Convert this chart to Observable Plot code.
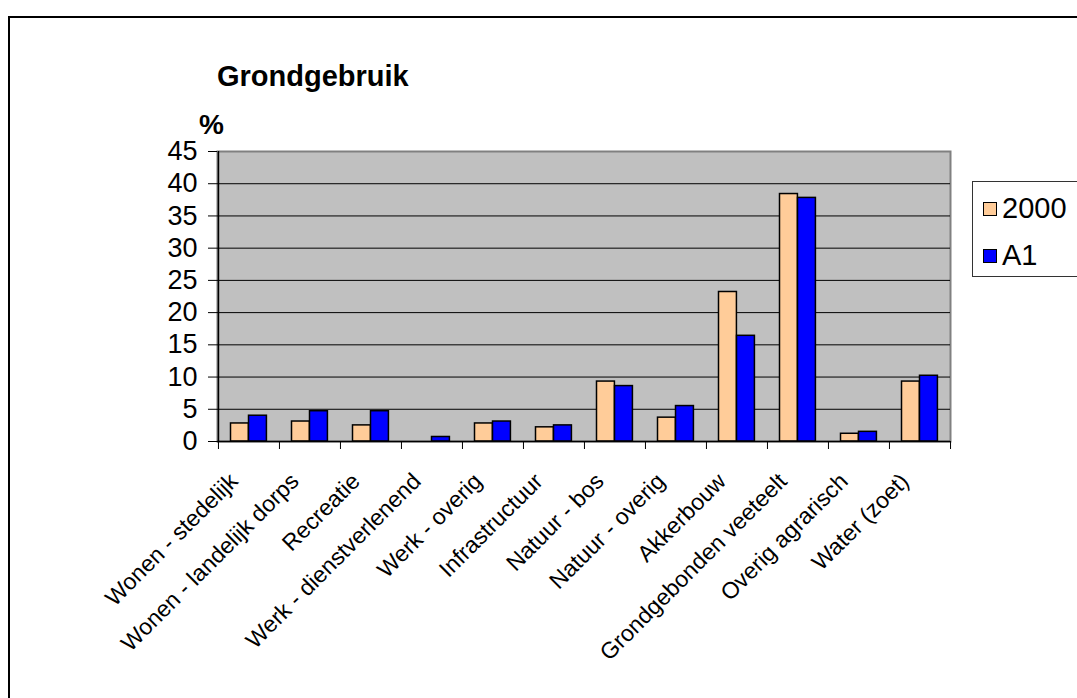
<!DOCTYPE html>
<html>
<head>
<meta charset="utf-8">
<script src="https://cdn.jsdelivr.net/npm/d3@7"></script>
<script src="https://cdn.jsdelivr.net/npm/@observablehq/plot@0.6"></script>
<style>
  html, body { margin: 0; padding: 0; background: #fff; }
  body { width: 1077px; height: 698px; overflow: hidden; position: relative; font-family: "Liberation Sans", Arial, sans-serif; color: #000; }
  #frame { position: absolute; left: 8px; top: 16px; width: 1100px; height: 720px; border: 2px solid #000; box-sizing: border-box; }
  #title { position: absolute; left: 217px; top: 60px; font-size: 29px; font-weight: bold; white-space: nowrap; }
  #unit { position: absolute; left: 199px; top: 109px; font-size: 28px; font-weight: bold; }
  #chart { position: absolute; left: 0; top: 0; }
  #legend { position: absolute; left: 972px; top: 181px; width: 120px; height: 96px; border: 1px solid #333; background: #fff; box-sizing: border-box; }
  .item { position: absolute; left: 10px; display: flex; align-items: center; font-size: 29px; line-height: 1; }
  .sw { width: 12px; height: 12px; border: 1.5px solid #000; margin-right: 5px; }
</style>
</head>
<body>
<div id="frame"></div>
<div id="title">Grondgebruik</div>
<div id="unit">%</div>
<div id="chart"></div>
<div id="legend"></div>
<script>
const categories = [
  "Wonen - stedelijk", "Wonen - landelijk dorps", "Recreatie", "Werk - dienstverlenend",
  "Werk - overig", "Infrastructuur", "Natuur - bos", "Natuur - overig",
  "Akkerbouw", "Grondgebonden veeteelt", "Overig agrarisch", "Water (zoet)"
];
const series = ["2000", "A1"];
const values2000 = [2.8, 3.1, 2.5, 0, 2.8, 2.2, 9.3, 3.7, 23.2, 38.4, 1.2, 9.3];
const valuesA1   = [4.0, 4.7, 4.7, 0.7, 3.1, 2.5, 8.6, 5.5, 16.4, 37.8, 1.5, 10.2];
const colors = ["#ffcc99", "#0000ff"];
const yTicks = [0, 5, 10, 15, 20, 25, 30, 35, 40, 45];

const rows = categories.map((c, i) => ({category: c, v2000: values2000[i], vA1: valuesA1[i]}));

const W = 1077, H = 698;
const mL = 217, mR = 127, mT = 151, mB = 257;
const bw = (W - mL - mR) / categories.length;

const chart = Plot.plot({
  width: W, height: H,
  marginLeft: mL, marginRight: mR, marginTop: mT, marginBottom: mB,
  style: {fontFamily: "'Liberation Sans', Arial, sans-serif", color: "#000", background: "transparent"},
  x: {domain: categories, padding: 0, label: null},
  y: {domain: [0, 45], label: null},
  marks: [
    Plot.frame({fill: "#c0c0c0", stroke: "#808080", strokeWidth: 2}),
    Plot.gridY(yTicks.filter(t => t > 0 && t < 45), {stroke: "#000", strokeOpacity: 1, strokeWidth: 1}),
    Plot.barY(rows, {x: "category", y: "v2000", fill: colors[0], stroke: "#000", strokeWidth: 1.5, insetLeft: 12.5, insetRight: bw - 30.5}),
    Plot.barY(rows, {x: "category", y: "vA1", fill: colors[1], stroke: "#000", strokeWidth: 1.5, insetLeft: 30.5, insetRight: bw - 48.5}),
    Plot.ruleY([0], {stroke: "#000", strokeWidth: 1.5}),
    Plot.ruleX([categories[0]], {y1: 0, y2: 45, dx: -bw / 2, stroke: "#000", strokeWidth: 1.5}),
    Plot.axisY({ticks: yTicks, tickSize: 9, tickPadding: 11, fontSize: 27, label: null}),
    Plot.axisX(categories, {tickSize: 8, tickFormat: () => "", dx: -bw / 2, label: null}),
    Plot.axisX([categories[categories.length - 1]], {tickSize: 8, tickFormat: () => "", dx: bw / 2, label: null}),
    Plot.axisX({tickSize: 0, tickPadding: 36, tickRotate: -45, fontSize: 23, label: null, dx: -15})
  ]
});
document.getElementById("chart").appendChild(chart);

const legend = document.getElementById("legend");
series.forEach((s, i) => {
  const it = document.createElement("div");
  it.className = "item";
  it.style.top = (i === 0 ? 12 : 59) + "px";
  const sw = document.createElement("div");
  sw.className = "sw";
  sw.style.background = colors[i];
  it.appendChild(sw);
  const t = document.createElement("span");
  t.textContent = s;
  it.appendChild(t);
  legend.appendChild(it);
});
</script>
</body>
</html>
